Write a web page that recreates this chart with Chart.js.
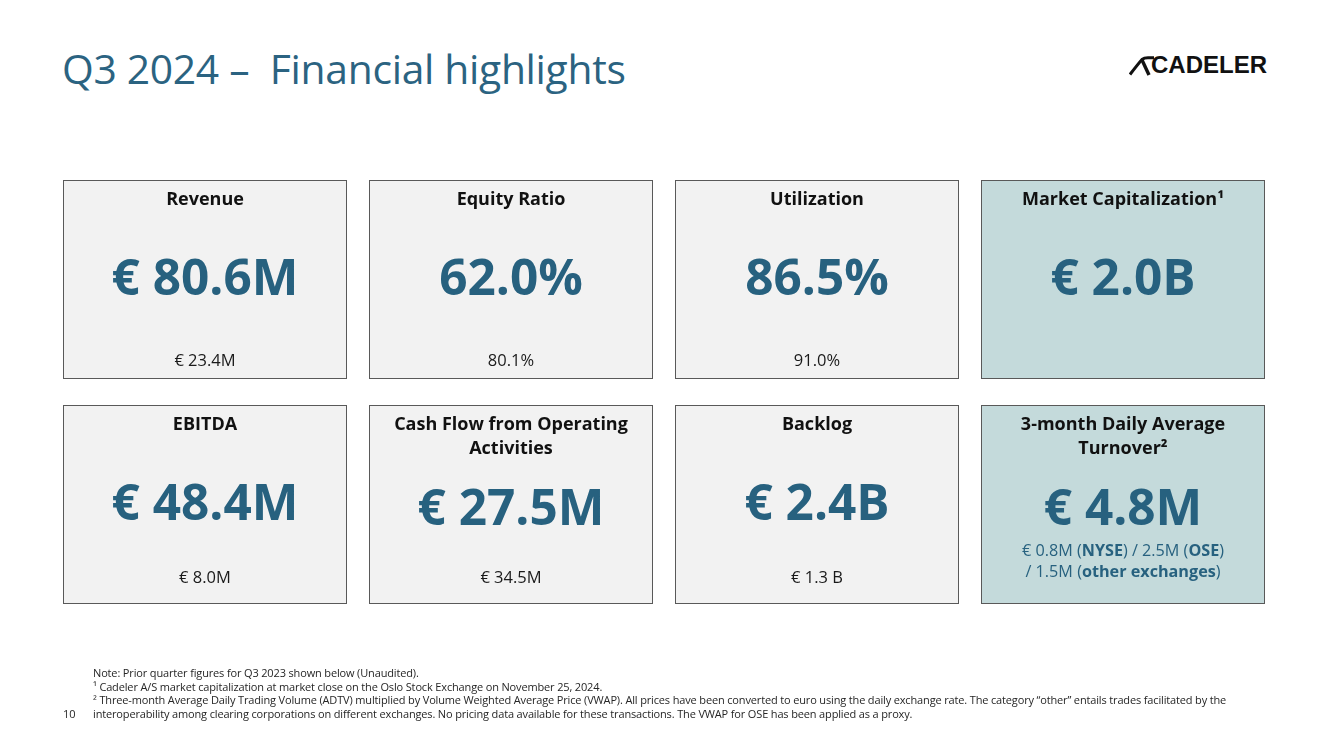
<!DOCTYPE html>
<html>
<head>
<meta charset="utf-8">
<script src="https://cdn.jsdelivr.net/npm/chart.js@4.4.1/dist/chart.umd.min.js"></script>
<style>
  html, body { margin: 0; padding: 0; background: #ffffff; }
  body { width: 1333px; height: 749px; position: relative; overflow: hidden; font-family: "Open Sans", sans-serif; }
  #title { position: absolute; left: 62px; top: 40px; font-size: 40.8px; color: #2b6381; white-space: pre; letter-spacing: -0.3px; }
  #logo { position: absolute; left: 1129px; top: 56px; height: 20px; }
  #logo span { position: absolute; left: 22px; top: -5px; font-family: "Liberation Sans", Arial, sans-serif; font-weight: bold; font-size: 24px; color: #111; }
  #notes { position: absolute; left: 93px; top: 666px; font-size: 11px; line-height: 13.6px; color: #262626; letter-spacing: -0.15px; white-space: nowrap; }
  #page { position: absolute; left: 63px; top: 706px; font-size: 11px; color: #262626; }
  canvas { position: absolute; left: 0; top: 0; }
</style>
</head>
<body>
<div id="title">Q3 2024 –  Financial highlights</div>
<div id="logo">
  <svg width="26" height="20" viewBox="0 0 26 20" style="position:absolute;left:0;top:0">
    <path d="M1 18.5 Q9 8 13 3.5 Q15 1.8 19 1.8 L25 1.8" stroke="#111" stroke-width="3" fill="none"/>
    <path d="M13 4 L20 19" stroke="#111" stroke-width="3.4" fill="none"/>
  </svg>
  <span>CADELER</span>
</div>
<canvas id="kpiChart" width="1333" height="749"></canvas>
<div id="notes">
  Note: Prior quarter figures for Q3 2023 shown below (Unaudited).<br>
  ¹ Cadeler A/S market capitalization at market close on the Oslo Stock Exchange on November 25, 2024.<br>
  ² Three-month Average Daily Trading Volume (ADTV) multiplied by Volume Weighted Average Price (VWAP). All prices have been converted to euro using the daily exchange rate. The category “other” entails trades facilitated by the<br>
  interoperability among clearing corporations on different exchanges. No pricing data available for these transactions. The VWAP for OSE has been applied as a proxy.
</div>
<div id="page">10</div>
<script>
// ! KPI tiles : 4 columns x 2 rows

const columns = ["col1", "col2", "col3", "col4"];

const topTitles = [["Revenue"], ["Equity Ratio"], ["Utilization"], ["Market Capitalization¹"]];
const topValues = ["€ 80.6M", "62.0%", "86.5%", "€ 2.0B"];
const topPrior = ["€ 23.4M", "80.1%", "91.0%", ""];

const bottomTitles = [["EBITDA"], ["Cash Flow from Operating", "Activities"], ["Backlog"], ["3-month Daily Average", "Turnover²"]];
const bottomValues = ["€ 48.4M", "€ 27.5M", "€ 2.4B", "€ 4.8M"];
const bottomPrior = ["€ 8.0M", "€ 34.5M", "€ 1.3 B", ""];

// turnover split by exchange
const turnoverAmounts = ["€ 0.8M", "2.5M", "1.5M"];
const turnoverVenues = ["NYSE", "OSE", "other exchanges"];

const GREY = "#f2f2f2";
const TEAL_BG = "#c4dadb";
const TEAL = "#27617f";
const tileColors = [GREY, GREY, GREY, TEAL_BG];

const FONT = '"Open Sans", sans-serif';

// draw one line made of [text, bold] pieces, centred on cx
function richLine(ctx, parts, cx, y, size, color) {
  let total = 0;
  parts.forEach((p) => {
    ctx.font = (p[1] ? "bold " : "") + size + "px " + FONT;
    total += ctx.measureText(p[0]).width;
  });
  let x = cx - total / 2;
  ctx.fillStyle = color;
  ctx.textAlign = "left";
  parts.forEach((p) => {
    ctx.font = (p[1] ? "bold " : "") + size + "px " + FONT;
    ctx.fillText(p[0], x, y);
    x += ctx.measureText(p[0]).width;
  });
}

const tileText = {
  id: "tileText",
  afterDatasetsDraw(chart) {
    const ctx = chart.ctx;
    ctx.save();
    ctx.textBaseline = "middle";
    const rows = [
      { titles: topTitles, values: topValues, prior: topPrior },
      { titles: bottomTitles, values: bottomValues, prior: bottomPrior },
    ];
    rows.forEach((row, r) => {
      const meta = chart.getDatasetMeta(r);
      meta.data.forEach((bar, i) => {
        const top = Math.min(bar.y, bar.base);
        const bottom = Math.max(bar.y, bar.base);
        const cx = bar.x;
        const lines = row.titles[i];
        ctx.textAlign = "center";
        ctx.fillStyle = "#111111";
        ctx.font = "bold 18px " + FONT;
        lines.forEach((t, k) => ctx.fillText(t, cx, top + 20 + k * 24));
        ctx.fillStyle = TEAL;
        ctx.font = "bold 49.5px " + FONT;
        const vy = lines.length > 1 ? top + 106 : top + 101;
        ctx.fillText(row.values[i], cx, vy);
        if (row.prior[i]) {
          ctx.fillStyle = "#1a1a1a";
          ctx.font = "16.5px " + FONT;
          ctx.fillText(row.prior[i], cx, r === 0 ? bottom - 18 : bottom - 26);
        }
        if (r === 1 && i === 3) {
          richLine(ctx, [[turnoverAmounts[0] + " (", 0], [turnoverVenues[0], 1], [") / " + turnoverAmounts[1] + " (", 0], [turnoverVenues[1], 1], [")", 0]], cx, top + 146, 16.2, TEAL);
          richLine(ctx, [["/ " + turnoverAmounts[2] + " (", 0], [turnoverVenues[2], 1], [")", 0]], cx, top + 167, 16.2, TEAL);
        }
      });
    });
    ctx.restore();
  },
};

const ctx = document.getElementById("kpiChart");

new Chart(ctx, {
  type: "bar",
  data: {
    labels: columns,
    datasets: [
      {
        label: "top row",
        data: columns.map(() => [1.058, 1.942]),
        backgroundColor: tileColors,
        borderColor: "#595959",
        borderWidth: 1,
        borderSkipped: false,
      },
      {
        label: "bottom row",
        data: columns.map(() => [0.058, 0.942]),
        backgroundColor: tileColors,
        borderColor: "#595959",
        borderWidth: 1,
        borderSkipped: false,
      },
    ],
  },
  options: {
    responsive: false,
    animation: false,
    grouped: false,
    categoryPercentage: 1,
    barPercentage: 284 / 306,
    layout: { padding: { left: 52, right: 57, top: 167, bottom: 132 } },
    plugins: { legend: { display: false }, tooltip: { enabled: false } },
    scales: {
      x: { display: false, grid: { display: false } },
      y: { display: false, min: 0, max: 2 },
    },
  },
  plugins: [tileText],
});
</script>
</body>
</html>
